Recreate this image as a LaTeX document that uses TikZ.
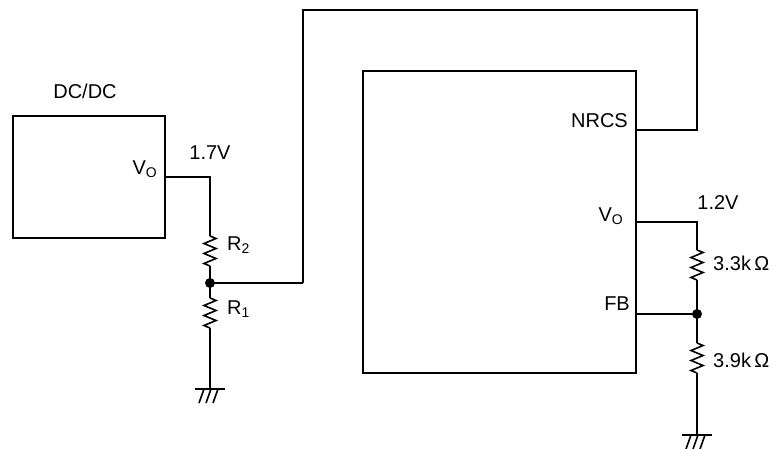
\documentclass[tikz,border=0pt]{standalone}
\usepackage{fontspec}
\setmainfont{Liberation Sans}
\tikzset{
  wire/.style={line width=1.6pt},
  thickwire/.style={line width=2.6pt},
  lbl/.style={inner sep=0pt, font=\fontsize{20}{24}\selectfont},
  dotnode/.style={circle, fill=black, inner sep=0pt, minimum size=10pt},
  pics/resistor/.style={code={
    \draw[line width=1.6pt, line join=miter] (0,0) -- (6,2.5) -- (-6,7.5) -- (6,12.5) -- (-6,17.5) -- (6,22.5) -- (-6,27.5) -- (0,30);
  }},
  pics/gnd/.style={code={
    \draw[line width=1.6pt] (-15,0) -- (15,0);
    \foreach \u in {-6,1,8} \draw[line width=1.6pt] (\u,0) -- (\u-5,14);
  }}
}
\newcommand{\VO}{V\raisebox{-0.3ex}{\fontsize{14}{14}\selectfont O}}
\newcommand{\subn}[1]{\raisebox{-0.3ex}{\fontsize{14}{14}\selectfont #1}}
\begin{document}
\begin{tikzpicture}[x=1pt,y=-1pt]
\useasboundingbox (0,0) rectangle (783,448);
% blocks
\node[draw, line width=1.6pt, minimum width=152pt, minimum height=122pt, inner sep=0pt] (dcdc) at (89,177) {};
\node[draw, line width=1.6pt, minimum width=273pt, minimum height=302pt, inner sep=0pt] (ic) at (499.5,222) {};
% labels
\node[lbl] (tdcdc) at (85,91) {DC/DC};
\node[lbl, anchor=east] (tvo1) at (157,169) {\VO};
\node[lbl] (t17) at (210,153) {1.7V};
\node[lbl, anchor=west] (tr2) at (227,245) {R\subn{2}};
\node[lbl, anchor=west] (tr1) at (227,309) {R\subn{1}};
\node[lbl, anchor=east] (tnrcs) at (628,121) {NRCS};
\node[lbl, anchor=east] (tvo2) at (623,216) {\VO};
\node[lbl] (t12) at (718,203) {1.2V};
\node[lbl, anchor=east] (tfb) at (630,304) {FB};
\node[lbl, anchor=west] (t33) at (713,263) {3.3k\,Ω};
\node[lbl, anchor=west] (t39) at (713,360) {3.9k\,Ω};
% coordinates
\coordinate (vo1) at (165,177);
\coordinate (c1) at (210,177);
\coordinate (r2t) at (210,236);
\coordinate (r2b) at (210,266);
\node[dotnode] (n1) at (210,283) {};
\coordinate (r1t) at (210,298);
\coordinate (r1b) at (210,328);
\coordinate (g1) at (210,389);
\coordinate (c2) at (303,283);
\coordinate (c3) at (303,10);
\coordinate (c4) at (697,10);
\coordinate (c5) at (697,130);
\coordinate (nrcs) at (636,130);
\coordinate (vo2) at (636,222);
\coordinate (c6) at (697,222);
\coordinate (r3t) at (697,250);
\coordinate (r3b) at (697,280);
\node[dotnode] (n2) at (697,314) {};
\coordinate (fb) at (636,314);
\coordinate (r4t) at (697,343);
\coordinate (r4b) at (697,373);
\coordinate (g2) at (697,435);
% wires
\draw[wire] (vo1) -- (c1) -- (r2t);
\pic at (r2t) {resistor};
\draw[wire] (r2b) -- (n1.center) -- (r1t);
\pic at (r1t) {resistor};
\draw[wire] (r1b) -- (g1);
\pic at (g1) {gnd};
\draw[thickwire] (n1.center) -- (c2);
\draw[wire] (c2) -- (c3) -- (c4) -- (c5) -- (nrcs);
\draw[wire] (vo2) -- (c6) -- (r3t);
\pic at (r3t) {resistor};
\draw[wire] (r3b) -- (n2.center) -- (r4t);
\draw[thickwire] (fb) -- (n2.center);
\pic at (r4t) {resistor};
\draw[wire] (r4b) -- (g2);
\pic at (g2) {gnd};
\end{tikzpicture}
\end{document}
